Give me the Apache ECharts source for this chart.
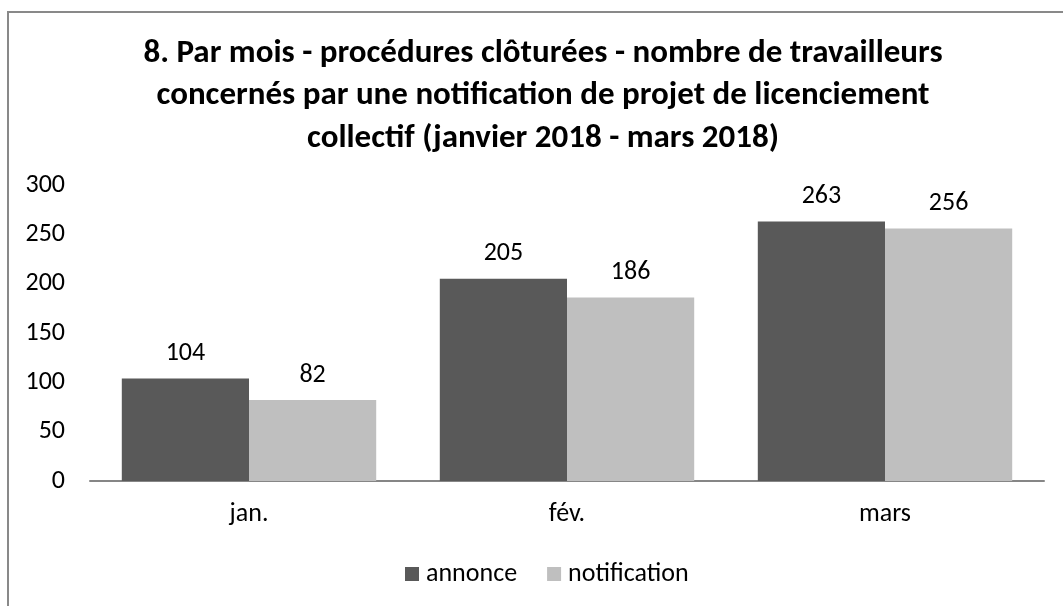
<!DOCTYPE html>
<html>
<head>
<meta charset="utf-8">
<script src="https://cdn.jsdelivr.net/npm/echarts@6/dist/echarts.min.js"></script>
<style>
  html, body { margin: 0; padding: 0; background: #fff; }
  #main { width: 1063px; height: 606px; }
</style>
</head>
<body>
<div id="main"></div>
<script>
  // données
  var mois = ["jan.", "fév.", "mars"];
  var annonce = [104, 205, 263];
  var notification = [82, 186, 256];
  var yTicks = [0, 50, 100, 150, 200, 250, 300];

  var police = 'Carlito, "Liberation Sans", sans-serif';
  var chart = echarts.init(document.getElementById("main"));

  chart.setOption({
    backgroundColor: "#fff",
    animation: false,
    textStyle: { fontFamily: police },
    graphic: [{
      type: "rect",
      shape: { x: 8, y: 12, width: 1070, height: 620 },
      style: { fill: null, stroke: "#898989", lineWidth: 2 }
    }],
    title: {
      text: "8. Par mois - procédures clôturées - nombre de travailleurs\nconcernés par une notification de projet de licenciement\ncollectif (janvier 2018 - mars 2018)",
      left: 538,
      textAlign: "center",
      top: 27,
      textStyle: {
        fontFamily: police,
        fontSize: 33,
        fontWeight: "bold",
        color: "#000",
        lineHeight: 42.5
      }
    },
    legend: {
      bottom: 14,
      left: 400,
      itemWidth: 14,
      itemHeight: 14,
      itemGap: 30,
      icon: "rect",
      textStyle: { fontFamily: police, fontSize: 26, color: "#000", padding: [0, 0, 0, 2] },
      data: ["annonce", "notification"]
    },
    grid: { left: 90, right: 19, top: 185, bottom: 125 },
    xAxis: {
      type: "category",
      data: mois,
      axisTick: { show: false },
      axisLine: { lineStyle: { color: "#868686", width: 2 } },
      axisLabel: { fontFamily: police, fontSize: 26, color: "#000", margin: 20 }
    },
    yAxis: {
      type: "value",
      min: yTicks[0],
      max: yTicks[yTicks.length - 1],
      interval: 50,
      splitLine: { show: false },
      axisLine: { show: false },
      axisTick: { show: false },
      axisLabel: { fontFamily: police, fontSize: 26, color: "#000", margin: 25 }
    },
    series: [
      {
        name: "annonce",
        type: "bar",
        data: annonce,
        barGap: "0%",
        barCategoryGap: "20%",
        itemStyle: { color: "#595959" },
        label: { show: true, position: "top", distance: 12, fontFamily: police, fontSize: 26, color: "#000" }
      },
      {
        name: "notification",
        type: "bar",
        data: notification,
        barGap: "0%",
        barCategoryGap: "20%",
        itemStyle: { color: "#bfbfbf" },
        label: { show: true, position: "top", distance: 12, fontFamily: police, fontSize: 26, color: "#000" }
      }
    ]
  });
</script>
</body>
</html>
